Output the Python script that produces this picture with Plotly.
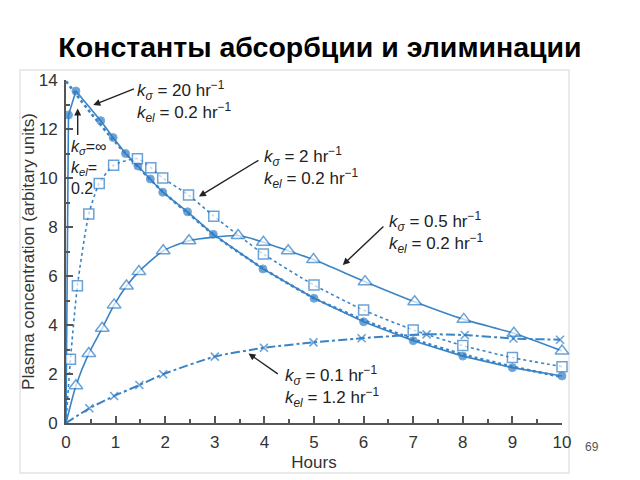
import plotly.graph_objects as go

# ---- data ----
t_inf = [0, 0.5, 1, 1.5, 2, 2.5, 3, 4, 5, 6, 7, 8, 9, 10]
c_inf = [13.95, 12.65, 11.45, 10.35, 9.35, 8.5, 7.65, 6.27, 5.1, 4.2, 3.42, 2.8, 2.3, 1.88]

t_20 = [0, 0.05, 0.2, 0.7, 0.95, 1.2, 1.45, 1.7, 1.95, 2.45, 2.97, 3.97, 5, 6, 7, 8, 9, 10]
c_20 = [0, 12.57, 13.55, 12.34, 11.65, 11.0, 10.49, 9.96, 9.42, 8.62, 7.70, 6.29, 5.09, 4.13, 3.36, 2.73, 2.26, 1.92]

t_2 = [0, 0.09, 0.23, 0.46, 0.67, 0.96, 1.44, 1.71, 1.95, 2.47, 2.98, 3.98, 5, 6, 7, 8, 9, 10]
c_2 = [0, 2.6, 5.6, 8.53, 9.78, 10.52, 10.79, 10.42, 10.0, 9.31, 8.44, 6.9, 5.63, 4.61, 3.8, 3.16, 2.67, 2.3]

t_05 = [0, 0.2, 0.46, 0.73, 0.97, 1.22, 1.47, 1.96, 2.48, 3.47, 3.98, 4.48, 4.99, 6.03, 7.03, 8.02, 9.03, 10]
c_05 = [0, 1.52, 2.84, 3.87, 4.82, 5.59, 6.18, 7.03, 7.44, 7.65, 7.38, 7.03, 6.67, 5.77, 4.95, 4.23, 3.66, 2.94]

t_01 = [0, 0.47, 0.97, 1.48, 1.96, 3.0, 3.99, 4.99, 5.96, 7.27, 8.04, 9.02, 9.96]
c_01 = [0, 0.6, 1.1, 1.55, 1.99, 2.71, 3.07, 3.29, 3.46, 3.62, 3.59, 3.45, 3.4]

x_ticks = list(range(0, 11))
y_ticks = list(range(0, 15, 2))

BLUE = "#2f7cc4"
LINE = "#3a84c6"
FONT = "Liberation Sans"
TEXT = "#333"


def sizes(n, s):
    return [0] + [s] * (n - 1)


fig = go.Figure()

fig.add_trace(go.Scatter(x=t_inf, y=c_inf, mode="lines",
                         line=dict(color=LINE, width=2.6, dash="dot", shape="spline", smoothing=0.6),
                         cliponaxis=False, showlegend=False))

fig.add_trace(go.Scatter(x=t_20, y=c_20, mode="lines+markers",
                         line=dict(color=LINE, width=1.6),
                         marker=dict(symbol="circle", size=sizes(len(t_20), 8), color=BLUE),
                         cliponaxis=False, showlegend=False))

fig.add_trace(go.Scatter(x=t_2, y=c_2, mode="lines+markers",
                         line=dict(color=LINE, width=1.6, dash="dot", shape="spline", smoothing=0.6),
                         marker=dict(symbol="square", size=sizes(len(t_2), 10), color="white",
                                     line=dict(color=BLUE, width=1.5)),
                         cliponaxis=False, showlegend=False))

fig.add_trace(go.Scatter(x=t_05, y=c_05, mode="lines+markers",
                         line=dict(color=LINE, width=1.6, shape="spline", smoothing=0.6),
                         marker=dict(symbol="triangle-up", size=sizes(len(t_05), 12), color="white",
                                     line=dict(color=BLUE, width=1.5)),
                         cliponaxis=False, showlegend=False))

fig.add_trace(go.Scatter(x=t_01, y=c_01, mode="lines+markers",
                         line=dict(color=LINE, width=2, dash="dashdot", shape="spline", smoothing=0.6),
                         marker=dict(symbol="x-thin", size=sizes(len(t_01), 8),
                                     line=dict(color=BLUE, width=1.6)),
                         cliponaxis=False, showlegend=False))


def label(x, y, text, size=17):
    fig.add_annotation(x=x, y=y, xref="x", yref="y", text=text, showarrow=False,
                       xanchor="left", yanchor="middle", align="left",
                       font=dict(family=FONT, size=size, color="#222"))


def arrow(x, y, ax, ay):
    fig.add_annotation(x=x, y=y, ax=ax, ay=ay, xref="x", yref="y", axref="x", ayref="y",
                       text="", showarrow=True, arrowhead=2, arrowsize=1, arrowwidth=1.4,
                       arrowcolor="#222")


ka = "<i>k</i><sub><i>σ</i></sub>"
kel = "<i>k</i><sub><i>el</i></sub>"

label(1.40, 13.13, f"{ka} = 20 hr<sup>−1</sup><br>{kel} = 0.2 hr<sup>−1</sup>")
arrow(0.55, 12.98, 1.40, 13.66)

label(0.06, 10.41, f"{ka}=∞<br>{kel}=<br>0.2", size=16)
arrow(0.236, 12.84, 0.236, 11.69)

label(3.96, 10.41, f"{ka} = 2 hr<sup>−1</sup><br>{kel} = 0.2 hr<sup>−1</sup>")
arrow(2.68, 9.24, 3.91, 10.76)

label(6.48, 7.78, f"{ka} = 0.5 hr<sup>−1</sup><br>{kel} = 0.2 hr<sup>−1</sup>")
arrow(5.58, 6.45, 6.43, 8.08)

label(4.37, 1.51, f"{ka} = 0.1 hr<sup>−1</sup><br>{kel} = 1.2 hr<sup>−1</sup>")
arrow(3.68, 2.84, 4.30, 1.96)

fig.add_annotation(x=1.0605, y=-0.07, xref="paper", yref="paper", text="69", showarrow=False,
                   xanchor="center", yanchor="middle",
                   font=dict(family=FONT, size=12, color="#555"))

# light frame of the embedded picture
fig.add_shape(type="rect", xref="paper", yref="paper", x0=-0.0927, x1=1.0141, y0=-0.1458, y1=1.029,
              line=dict(color="#e4e4e4", width=1.5), layer="below")

axis_common = dict(showline=True, linecolor="#555", linewidth=2, ticks="inside", ticklen=7,
                   tickwidth=1.5, tickcolor="#555", showgrid=False, zeroline=False,
                   tickfont=dict(family=FONT, size=17, color=TEXT),
                   ticklabelstandoff=3, automargin=False)

# the page body has an 8px margin, so the figure box is offset by (8, 8)
fig.update_layout(
    width=640, height=480,
    margin=dict(l=58, r=86, t=72, b=65),
    paper_bgcolor="white", plot_bgcolor="white",
    title=dict(text="<b>Константы абсорбции и элиминации</b>", x=0.5 - 8 / 640, xref="container",
               y=1 - 39 / 480, yref="container", xanchor="center", yanchor="middle",
               font=dict(family=FONT, size=28.5, color="black")),
    xaxis=dict(range=[0, 10], tickvals=x_ticks, ticktext=[str(v) for v in x_ticks],
               minor=dict(ticks="inside", ticklen=4, dtick=0.5, tickcolor="#555", tickwidth=1.5),
               title=dict(text="Hours", font=dict(family=FONT, size=17, color=TEXT), standoff=5),
               **axis_common),
    yaxis=dict(range=[0, 14], tickvals=y_ticks, ticktext=[str(v) for v in y_ticks],
               minor=dict(ticks="inside", ticklen=4, dtick=1, tickcolor="#555", tickwidth=1.5),
               title=dict(text="Plasma concentration (arbitary units)",
                          font=dict(family=FONT, size=17, color=TEXT), standoff=0),
               **axis_common),
)

fig.write_html("out.html")
